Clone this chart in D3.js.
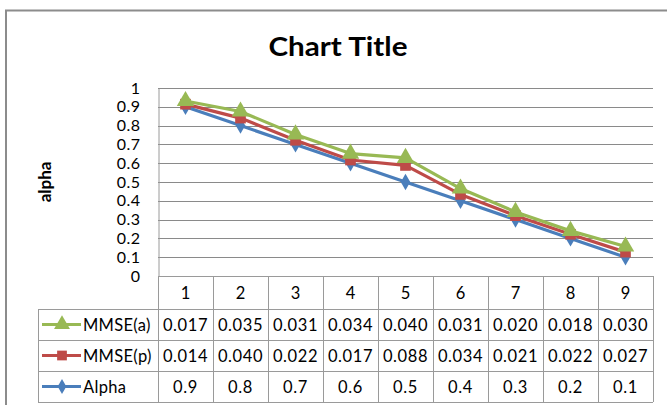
<!DOCTYPE html>
<html><head><meta charset="utf-8">
<script src="https://cdn.jsdelivr.net/npm/d3@7"></script>
<style>body{margin:0;background:#fff}svg{display:block;font-family:Lato,"Open Sans",sans-serif}</style>
</head><body><svg id="c" width="667" height="405"></svg>
<script>
const categories = ["1","2","3","4","5","6","7","8","9"];
const alpha = [0.9,0.8,0.7,0.6,0.5,0.4,0.3,0.2,0.1];
const mmseP = [0.014,0.040,0.022,0.017,0.088,0.034,0.021,0.022,0.027];
const mmseA = [0.017,0.035,0.031,0.034,0.040,0.031,0.020,0.018,0.030];
const alphaLabels = ["0.9","0.8","0.7","0.6","0.5","0.4","0.3","0.2","0.1"];
const yTicks = [0,0.1,0.2,0.3,0.4,0.5,0.6,0.7,0.8,0.9,1];
const seriesNames = ["Alpha","MMSE(p)","MMSE(a)"];
const colors = {"Alpha":"#4A7EBB","MMSE(p)":"#BE4B48","MMSE(a)":"#98B954"};

const svg = d3.select("#c");
const L=158,R=653,T=88,B=276;
const FS=16.5;
const x = d3.scaleBand().domain(categories).range([L,R]);
const y = d3.scaleLinear().domain([0,1]).range([B,T]);

// chart border
svg.append("path").attr("d","M6,405 V10.5 H667").attr("fill","none").attr("stroke","#8c8c8c").attr("stroke-width",2);

// title
svg.append("text").attr("x",338).attr("y",56).attr("text-anchor","middle")
  .attr("font-size",27).attr("font-weight","bold").attr("textLength",139).attr("lengthAdjust","spacingAndGlyphs").text("Chart Title");

// y label
svg.append("text").attr("transform","translate(51,182) rotate(-90)").attr("text-anchor","middle")
  .attr("font-size",17).attr("font-weight","bold").text("alpha");

// gridlines
svg.append("g").selectAll("line").data(yTicks.filter(d=>d>0)).join("line")
  .attr("x1",L).attr("x2",R).attr("y1",d=>Math.round(y(d))+0.5).attr("y2",d=>Math.round(y(d))+0.5)
  .attr("stroke","#8a8a8a").attr("stroke-width",1);

// y axis
const ya = svg.append("g").attr("transform",`translate(${L+0.5},0)`)
  .call(d3.axisLeft(y).tickValues(yTicks).tickFormat(d3.format("")).tickSize(0).tickPadding(18));
ya.attr("font-size",16).attr("font-family","Lato,sans-serif");
ya.select(".domain").attr("stroke","#9a9a9a");
ya.selectAll("text").attr("fill","#000").attr("letter-spacing",0.5);

// table
const rowY = [B,309,340,371,402];
const tg = svg.append("g").attr("stroke","#9a9a9a").attr("stroke-width",1).attr("fill","none");
tg.append("line").attr("x1",L).attr("x2",R).attr("y1",B+0.5).attr("y2",B+0.5);
[309,340,371,402].forEach(v=>tg.append("line").attr("x1",38).attr("x2",R).attr("y1",v+0.5).attr("y2",v+0.5));
const vx = categories.map(c=>x(c)).concat([R]);
vx.forEach(v=>tg.append("line").attr("x1",Math.round(v)+0.5).attr("x2",Math.round(v)+0.5).attr("y1",B).attr("y2",402));
tg.append("line").attr("x1",38.5).attr("x2",38.5).attr("y1",309).attr("y2",402);

// header numbers
svg.append("g").selectAll("text").data(categories).join("text")
  .attr("x",d=>x(d)+x.bandwidth()/2).attr("y",298.5).attr("text-anchor","middle").attr("font-size",FS).text(d=>d);

const tableRows = [
  {name:"MMSE(a)", vals:mmseA.map(d=>d.toFixed(3)), marker:"triangle"},
  {name:"MMSE(p)", vals:mmseP.map(d=>d.toFixed(3)), marker:"square"},
  {name:"Alpha", vals:alphaLabels, marker:"diamond"}
];
const symType = {triangle:d3.symbolTriangle, square:d3.symbolSquare, diamond:d3.symbolDiamond};
const symSize = {triangle:110, square:95, diamond:65};
tableRows.forEach((r,i)=>{
  const cy = (rowY[i+1]+rowY[i+2])/2;
  const g = svg.append("g");
  g.selectAll("text.v").data(r.vals).join("text").attr("class","v")
    .attr("x",(d,j)=>x(categories[j])+x.bandwidth()/2).attr("y",cy+6).attr("text-anchor","middle")
    .attr("font-size",FS).attr("letter-spacing",0.6).text(d=>d);
  g.append("line").attr("x1",42).attr("x2",81).attr("y1",cy).attr("y2",cy).attr("stroke",colors[r.name]).attr("stroke-width",3);
  g.append("path").attr("d",d3.symbol(symType[r.marker],symSize[r.marker])()).attr("transform",`translate(62,${cy})`).attr("fill",colors[r.name]);
  g.append("text").attr("x",83).attr("y",cy+6).attr("font-size",FS).attr("letter-spacing",0.3).text(r.name);
});

// stacked lines
const data = categories.map((c,i)=>({cat:c,"Alpha":alpha[i],"MMSE(p)":mmseP[i],"MMSE(a)":mmseA[i]}));
const stacked = d3.stack().keys(seriesNames)(data);
const line = d3.line().x(d=>x(d.data.cat)+x.bandwidth()/2).y(d=>y(d[1]));
const markers = {"Alpha":"diamond","MMSE(p)":"square","MMSE(a)":"triangle"};
stacked.forEach(s=>{
  const col = colors[s.key];
  svg.append("path").datum(s).attr("d",line).attr("fill","none").attr("stroke",col).attr("stroke-width",3.2).attr("stroke-linejoin","round");
  const m = markers[s.key];
  svg.append("g").selectAll("path").data(s).join("path")
    .attr("d",d3.symbol(symType[m],symSize[m]*1.2)())
    .attr("transform",d=>`translate(${x(d.data.cat)+x.bandwidth()/2},${y(d[1])})`).attr("fill",col);
});
</script></body></html>
